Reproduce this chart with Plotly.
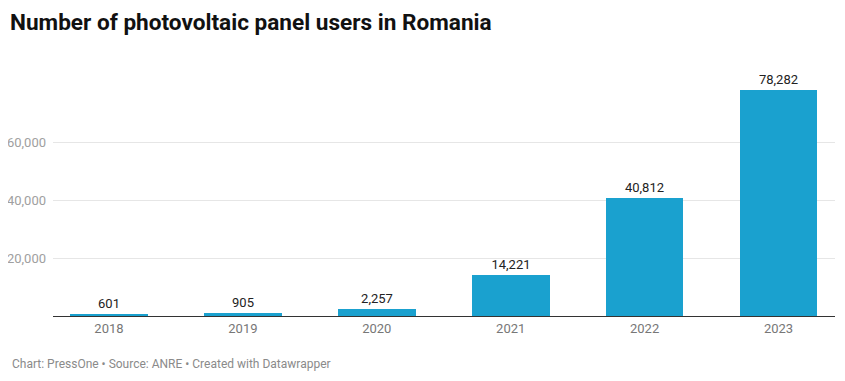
import plotly.graph_objects as go

years = ["2018", "2019", "2020", "2021", "2022", "2023"]
users = [601, 905, 2257, 14221, 40812, 78282]
y_ticks = [20000, 40000, 60000]
y_tick_labels = ["20,000", "40,000", "60,000"]

x_pos = list(range(len(years)))
labels = [f"{v:,}" for v in users]

# the page body adds an 8px offset, so coordinates below are shifted by -8
OFF = 8
W, H = 845 - OFF, 381 - OFF
plot_left = 53 - OFF
plot_right = 835 - OFF
plot_top = 60 - OFF
plot_bottom = 316 - OFF
plot_w = plot_right - plot_left

fig = go.Figure()
fig.add_trace(go.Bar(
    x=x_pos, y=users, width=0.58,
    marker=dict(color="#1aa1cf", line=dict(width=0)),
    text=labels, textposition="outside", cliponaxis=False,
    textfont=dict(family="Roboto", size=13, color="#222222"),
    hoverinfo="skip",
))

px_per_unit = 57.7 / 20000
ymax = (plot_bottom - plot_top) / px_per_unit

fig.update_layout(
    width=W, height=H,
    margin=dict(l=plot_left, r=W - plot_right, t=plot_top, b=H - plot_bottom, autoexpand=False),
    paper_bgcolor="white", plot_bgcolor="white",
    showlegend=False,
    bargap=0,
    font=dict(family="Roboto", color="#333333"),
    title=dict(
        text="<b>Number of photovoltaic panel users in Romania</b>",
        x=(10 - OFF) / W, xref="container", xanchor="left",
        y=1 - (22 - OFF) / H, yref="container", yanchor="middle",
        font=dict(family="Roboto", size=22.6, color="#111111"),
    ),
    xaxis=dict(
        range=[-0.418, 5.422], automargin=False,
        tickmode="array", tickvals=x_pos, ticktext=years,
        showgrid=False, zeroline=False,
        showline=True, linecolor="#333333", linewidth=1.2,
        ticks="", tickfont=dict(family="Roboto", size=13, color="#777777"),
        fixedrange=True,
    ),
    yaxis=dict(
        range=[0, ymax], automargin=False,
        tickmode="array", tickvals=y_ticks, ticktext=y_tick_labels,
        showgrid=True, gridcolor="#e6e6e6", gridwidth=1,
        zeroline=False, showline=False, ticks="",
        ticklabelstandoff=6,
        tickfont=dict(family="Roboto", size=13, color="#a0a0a0"),
        fixedrange=True,
    ),
)

fig.add_annotation(
    text="Chart: PressOne • Source: ANRE • Created with Datawrapper",
    xref="paper", yref="paper",
    x=((10 - OFF) - plot_left) / plot_w,
    y=-((364 - OFF) - plot_bottom) / (plot_bottom - plot_top),
    xanchor="left", yanchor="middle", showarrow=False,
    font=dict(family="Roboto", size=12, color="#8a8a8a"),
)

fig.write_html("out.html")
